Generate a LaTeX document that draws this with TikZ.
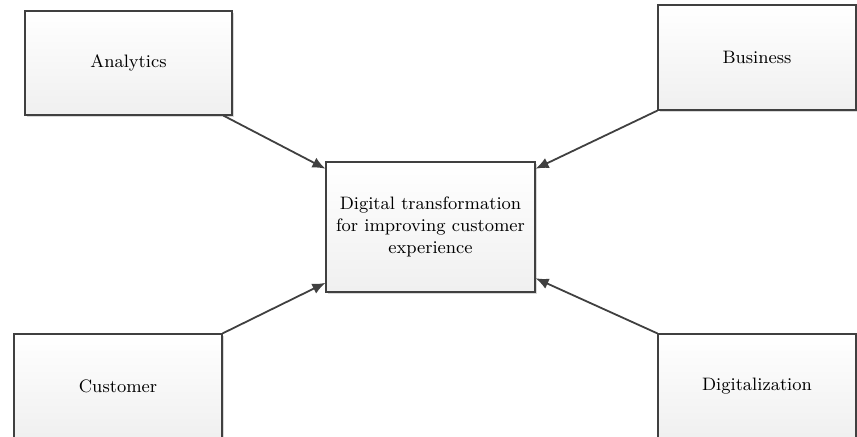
\documentclass[tikz,border=0pt]{standalone}
\usetikzlibrary{shadows,arrows.meta}

\tikzset{
  blok/.style={draw=black!75, line width=0.6pt, top color=white, bottom color=black!6,
    drop shadow={shadow xshift=1pt, shadow yshift=-1pt, fill=black!30, opacity=0.5},
    minimum width=103.5pt, minimum height=52pt, inner sep=0pt, align=center, font=\small},
  pijl/.style={-{Latex[length=6.5pt,width=5.5pt]}, draw=black!75, line width=0.9pt}
}

\begin{document}
\begin{tikzpicture}[x=0.5pt,y=-0.5pt]
\path[use as bounding box, clip] (0,0) rectangle (857,437);

\node[blok] (ana) at (128.5,63) {Analytics};
\node[blok, minimum width=99pt, minimum height=52.5pt] (bus) at (757,57.5) {Business};
\node[blok, minimum width=104.5pt, minimum height=65pt] (dt) at (430.5,227)
  {Digital transformation\\for improving customer\\experience};
\node[blok, minimum width=104pt] (cus) at (118,386) {Customer};
\node[blok, minimum width=99pt] (dig) at (757,386) {Digitalization};

\draw[pijl] (ana.-29) -- (dt.151);
\draw[pijl] (bus.south west) -- (dt.29);
\draw[pijl] (cus.north east) -- (dt.208);
\draw[pijl] (dig.north west) -- (dt.-26);
\end{tikzpicture}
\end{document}
